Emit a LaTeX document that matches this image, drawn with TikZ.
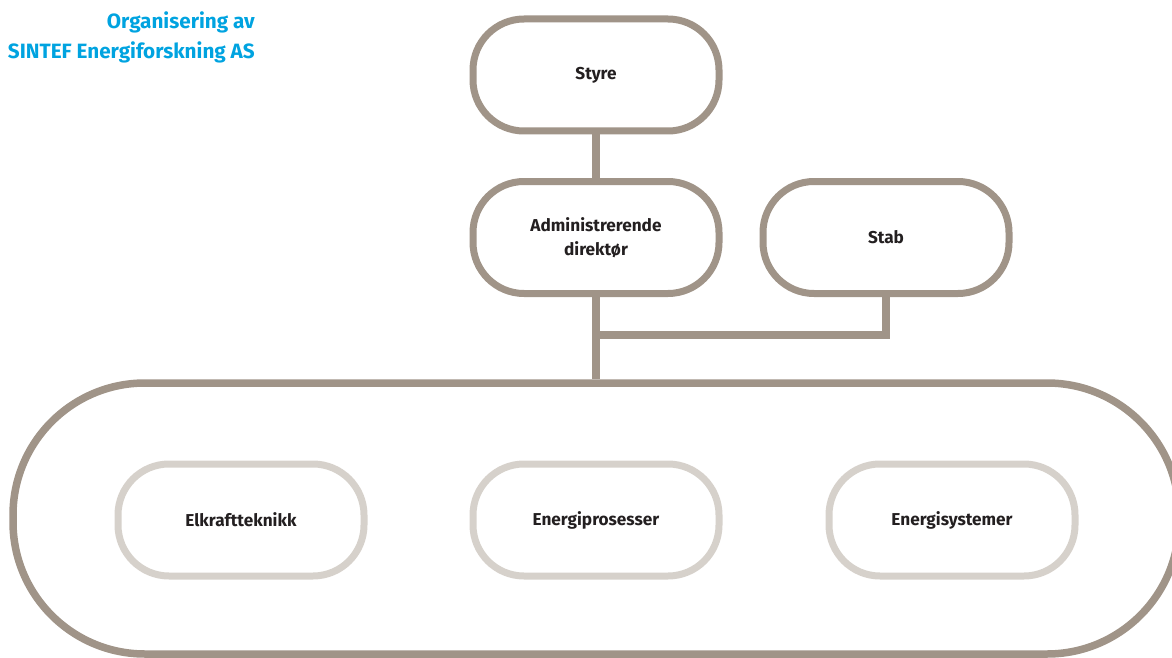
\documentclass[tikz,border=0pt]{standalone}
\usepackage{fontspec}
\setmainfont{Fira Sans}
\definecolor{outerc}{RGB}{160,148,136}
\definecolor{innerc}{RGB}{214,209,203}
\definecolor{titlec}{RGB}{0,163,224}
\definecolor{txtc}{RGB}{35,31,32}
\tikzset{
  orgbox/.style={draw=outerc, line width=7pt, rounded corners=51pt, fill=white,
    minimum width=246pt, minimum height=112pt, inner sep=0pt, align=center,
    text=txtc, font=\fontsize{17.2}{24}\selectfont\bfseries},
  unitbox/.style={orgbox, draw=innerc},
  link/.style={draw=outerc, line width=7.5pt},
}
\begin{document}
\begin{tikzpicture}[x=1pt,y=-1pt]
\useasboundingbox (0,0) rectangle (1172,658);
\clip (0,0) rectangle (1172,658);
\node[draw=outerc, line width=7.5pt, rounded corners=132pt, minimum width=1166pt,
  minimum height=271pt, inner sep=0pt] (big) at (596,518.5) {};
\node[orgbox] (styre) at (596,75) {Styre};
\node[orgbox] (adm) at (596,237.5) {Administrerende\\direktør};
\node[orgbox] (stab) at (886,237.5) {Stab};
\coordinate (j) at (596,335);
\draw[link] (styre.south) -- (adm.north);
\draw[link] (adm.south) -- (big.north);
\draw[link] (stab.south) |- (j);
\node[unitbox] (elk) at (241,520) {Elkraftteknikk};
\node[unitbox] (epro) at (596,520) {Energiprosesser};
\node[unitbox] (esys) at (952,520) {Energisystemer};
\node[anchor=east, align=right, text=titlec, inner sep=0pt,
  font=\fontsize{20.7}{30}\selectfont\bfseries] (title) at (255,37)
  {Organisering av\\SINTEF Energiforskning AS};
\end{tikzpicture}
\end{document}
